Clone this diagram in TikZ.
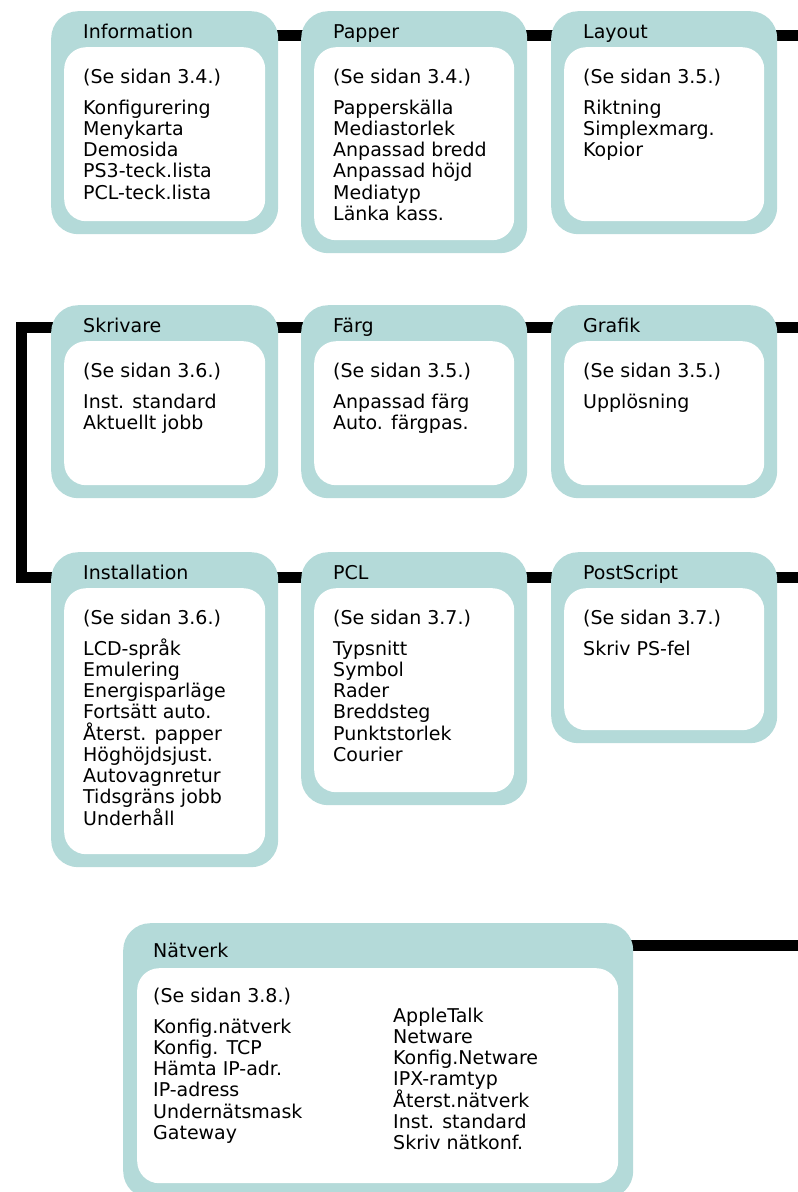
\documentclass[tikz,border=0pt]{standalone}
\usepackage{fontspec}
\setmainfont{DejaVu Sans}
\usetikzlibrary{calc,backgrounds}
\definecolor{boxteal}{RGB}{180,218,217}
\tikzset{
  outerbox/.style={draw=none, fill=boxteal, rounded corners=27pt, inner sep=0pt},
  innerbox/.style={draw=none, fill=white, rounded corners=22pt, inner sep=0pt},
  txt/.style={anchor=base west, inner sep=0pt, font=\fontsize{19}{21}\selectfont},
  conn/.style={line width=11pt, draw=black, line join=miter, line cap=butt}
}
\newcommand\menubox[6]{% name, x, y, w, h, title
  \node[outerbox, anchor=north west, minimum width=#4pt, minimum height=#5pt] (#1) at (#2,#3) {};
  \node[innerbox, anchor=north west, minimum width=#4pt-26pt, minimum height=#5pt-49pt] (#1-in) at (#2+13,#3+36) {};
  \node[txt] (#1-title) at (#2+32,#3+27) {#6};
}
\newcommand\menuitems[5]{% name, x, y, ref, list
  \node[txt] (#1-ref) at (#2+32,#3+72) {#4};
  \foreach \t [count=\i] in {#5} \node[txt] (#1-\i) at (#2+32,{#3+103+(\i-1)*21.25}) {\t};
}
\begin{document}
\begin{tikzpicture}[x=1pt,y=-1pt]
\useasboundingbox (0,0) rectangle (798,1192);
% row 1
\menubox{info}{51}{11}{227}{223}{Information}
\menuitems{info}{51}{11}{(Se sidan 3.4.)}{Konfigurering,Menykarta,Demosida,PS3-teck.lista,PCL-teck.lista}
\menubox{pap}{301}{11}{226}{242}{Papper}
\menuitems{pap}{301}{11}{(Se sidan 3.4.)}{Papperskälla,Mediastorlek,Anpassad bredd,Anpassad höjd,Mediatyp,Länka kass.}
\menubox{lay}{551}{11}{226}{223}{Layout}
\menuitems{lay}{551}{11}{(Se sidan 3.5.)}{Riktning,Simplexmarg.,Kopior}
% row 2
\menubox{skr}{51}{305}{227}{193}{Skrivare}
\menuitems{skr}{51}{305}{(Se sidan 3.6.)}{Inst. standard,Aktuellt jobb}
\menubox{far}{301}{305}{226}{193}{Färg}
\menuitems{far}{301}{305}{(Se sidan 3.5.)}{Anpassad färg,Auto. färgpas.}
\menubox{gra}{551}{305}{226}{193}{Grafik}
\menuitems{gra}{551}{305}{(Se sidan 3.5.)}{Upplösning}
% row 3
\menubox{ins}{51}{552}{227}{315}{Installation}
\menuitems{ins}{51}{552}{(Se sidan 3.6.)}{LCD-språk,Emulering,Energisparläge,Fortsätt auto.,Återst. papper,Höghöjdsjust.,Autovagnretur,Tidsgräns jobb,Underhåll}
\menubox{pcl}{301}{552}{226}{253}{PCL}
\menuitems{pcl}{301}{552}{(Se sidan 3.7.)}{Typsnitt,Symbol,Rader,Breddsteg,Punktstorlek,Courier}
\menubox{ps}{551}{552}{226}{191}{PostScript}
\menuitems{ps}{551}{552}{(Se sidan 3.7.)}{Skriv PS-fel}
% network
\node[outerbox, anchor=north west, minimum width=510pt, minimum height=275pt] (net) at (123,923) {};
\node[innerbox, anchor=north west, minimum width=481pt, minimum height=215pt] (net-in) at (137,968) {};
\node[txt] (net-title) at (153,957) {Nätverk};
\node[txt] (net-ref) at (153,1002) {(Se sidan 3.8.)};
\foreach \t [count=\i] in {Konfig.nätverk,Konfig. TCP,Hämta IP-adr.,IP-adress,Undernätsmask,Gateway}
  \node[txt] (netl-\i) at (153,{1033+(\i-1)*21.25}) {\t};
\foreach \t [count=\i] in {AppleTalk,Netware,Konfig.Netware,IPX-ramtyp,Återst.nätverk,Inst. standard,Skriv nätkonf.}
  \node[txt] (netr-\i) at (393,{1022+(\i-1)*21.25}) {\t};
% connector coordinates
\coordinate (r1) at (0,35);
\coordinate (r2) at (0,327);
\coordinate (r3) at (0,577);
\coordinate (r4) at (0,945);
\coordinate (lft) at (21,450);
\coordinate (e1) at (805,35);
\coordinate (e2) at (805,327);
\coordinate (e3) at (805,577);
\coordinate (e4) at (805,945);
\begin{pgfonlayer}{background}
\draw[conn] ($(info.east |- r1)+(-15,0)$) -- ($(pap.west |- r1)+(15,0)$);
\draw[conn] ($(pap.east |- r1)+(-15,0)$) -- ($(lay.west |- r1)+(15,0)$);
\draw[conn] ($(lay.east |- r1)+(-15,0)$) -- (e1);
\draw[conn] ($(skr.east |- r2)+(-15,0)$) -- ($(far.west |- r2)+(15,0)$);
\draw[conn] ($(far.east |- r2)+(-15,0)$) -- ($(gra.west |- r2)+(15,0)$);
\draw[conn] ($(gra.east |- r2)+(-15,0)$) -- (e2);
\draw[conn] ($(skr.west |- r2)+(15,0)$) -| (lft) |- ($(ins.west |- r3)+(15,0)$);
\draw[conn] ($(ins.east |- r3)+(-15,0)$) -- ($(pcl.west |- r3)+(15,0)$);
\draw[conn] ($(pcl.east |- r3)+(-15,0)$) -- ($(ps.west |- r3)+(15,0)$);
\draw[conn] ($(ps.east |- r3)+(-15,0)$) -- (e3);
\draw[conn] ($(net.east |- r4)+(-15,0)$) -- (e4);
\end{pgfonlayer}
\end{tikzpicture}
\end{document}
